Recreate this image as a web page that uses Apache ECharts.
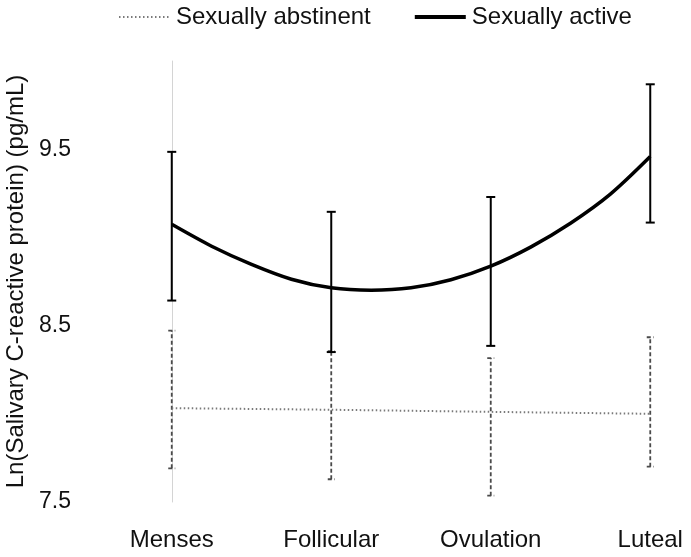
<!DOCTYPE html>
<html>
<head>
<meta charset="utf-8">
<script src="https://cdn.jsdelivr.net/npm/echarts@6/dist/echarts.min.js"></script>
<style>html,body{margin:0;padding:0;background:#fff}#c{width:691px;height:557px}</style>
</head>
<body>
<div id="c"></div>
<script>
var categories = ['Menses', 'Follicular', 'Ovulation', 'Luteal'];
var yTickLabels = [7.5, 8.5, 9.5];

// Sexually active: fitted curve (x = phase position)
var activeCurveX = [0, 0.25, 0.5, 0.75, 1, 1.25, 1.5, 1.75, 2, 2.25, 2.5, 2.75, 3];
var activeCurveY = [9.074, 8.95, 8.847, 8.763, 8.714, 8.70, 8.714, 8.76, 8.837, 8.945, 9.08, 9.245, 9.458];
var activeLow  = [8.642, 8.350, 8.385, 9.084];
var activeHigh = [9.485, 9.145, 9.229, 9.868];

// Sexually abstinent
var abstMean = [8.032, 8.023, 8.011, 8.000];
var abstLow  = [7.691, 7.629, 7.536, 7.700];
var abstHigh = [8.472, 8.355, 8.316, 8.434];

var FONT = '"Liberation Sans", Arial, sans-serif';
var TXT = '#111111';

function pairs(xs, ys) { return xs.map(function (x, i) { return [x, ys[i]]; }); }
function bars(lo, hi) { return lo.map(function (l, i) { return [i, l, hi[i]]; }); }

function errRender(color, width, dash, capHalf) {
  return function (params, api) {
    var x = api.value(0);
    var lo = api.coord([x, api.value(1)]);
    var hi = api.coord([x, api.value(2)]);
    var style = { stroke: color, lineWidth: width, lineDash: dash, fill: null };
    return {
      type: 'group',
      children: [
        { type: 'line', shape: { x1: lo[0], y1: lo[1], x2: hi[0], y2: hi[1] }, style: style },
        { type: 'line', shape: { x1: lo[0] - capHalf, y1: lo[1], x2: lo[0] + capHalf, y2: lo[1] }, style: style },
        { type: 'line', shape: { x1: hi[0] - capHalf, y1: hi[1], x2: hi[0] + capHalf, y2: hi[1] }, style: style }
      ]
    };
  };
}

var chart = echarts.init(document.getElementById('c'), null, { renderer: 'canvas' });
chart.setOption({
  backgroundColor: '#fff',
  animation: false,
  textStyle: { fontFamily: FONT },
  legend: {
    left: 113, top: 0,
    itemWidth: 51, itemHeight: 14, itemGap: 42,
    itemStyle: { opacity: 0 },
    textStyle: { fontSize: 24, color: TXT, fontFamily: FONT, padding: [0, 0, 0, 1] },
    data: [
      { name: 'Sexually abstinent', lineStyle: { width: 2, color: '#7a7a7a', type: [1.5, 2.5] } },
      { name: 'Sexually active', lineStyle: { width: 4, color: '#000000' } }
    ]
  },
  grid: { left: 92, top: 61, width: 638, height: 441, containLabel: false, outerBoundsMode: 'none' },
  xAxis: [
    {
      type: 'category', data: categories, boundaryGap: true,
      axisLine: { show: false }, axisTick: { show: false }, splitLine: { show: false },
      axisLabel: { fontSize: 24, color: TXT, fontFamily: FONT, margin: 26 }
    },
    { type: 'value', min: -0.5, max: 3.5, show: false }
  ],
  yAxis: {
    type: 'value', min: 7.5, max: 10, interval: 0.5,
    name: 'Ln(Salivary C-reactive protein) (pg/mL)',
    nameLocation: 'middle', nameGap: 62,
    nameTextStyle: { fontSize: 24, color: TXT, fontFamily: FONT },
    axisLine: { show: true, lineStyle: { color: '#d4d4d4', width: 1 } },
    axisTick: { show: false }, splitLine: { show: false },
    axisLabel: {
      fontSize: 23, color: TXT, fontFamily: FONT, margin: 21,
      formatter: function (v) {
        for (var i = 0; i < yTickLabels.length; i++) {
          if (Math.abs(v - yTickLabels[i]) < 1e-6) return yTickLabels[i].toFixed(1);
        }
        return '';
      }
    }
  },
  series: [
    {
      name: 'abstErr', type: 'custom', xAxisIndex: 1,
      renderItem: errRender('#4a4a4a', 1.8, [4, 2.5], 3.5),
      data: bars(abstLow, abstHigh), z: 2
    },
    {
      name: 'Sexually abstinent', type: 'line', xAxisIndex: 1,
      data: pairs([0, 1, 2, 3], abstMean), symbol: 'none',
      lineStyle: { color: '#7a7a7a', width: 2, type: [1.5, 2.5] },
      itemStyle: { color: '#7a7a7a' }, z: 3
    },
    {
      name: 'actErr', type: 'custom', xAxisIndex: 1,
      renderItem: errRender('#000000', 2, null, 4.5),
      data: bars(activeLow, activeHigh), z: 4
    },
    {
      name: 'Sexually active', type: 'line', xAxisIndex: 1,
      data: pairs(activeCurveX, activeCurveY), symbol: 'none', smooth: 0.3,
      lineStyle: { color: '#000000', width: 3.5 },
      itemStyle: { color: '#000000' }, z: 5
    }
  ]
});
</script>
</body>
</html>
